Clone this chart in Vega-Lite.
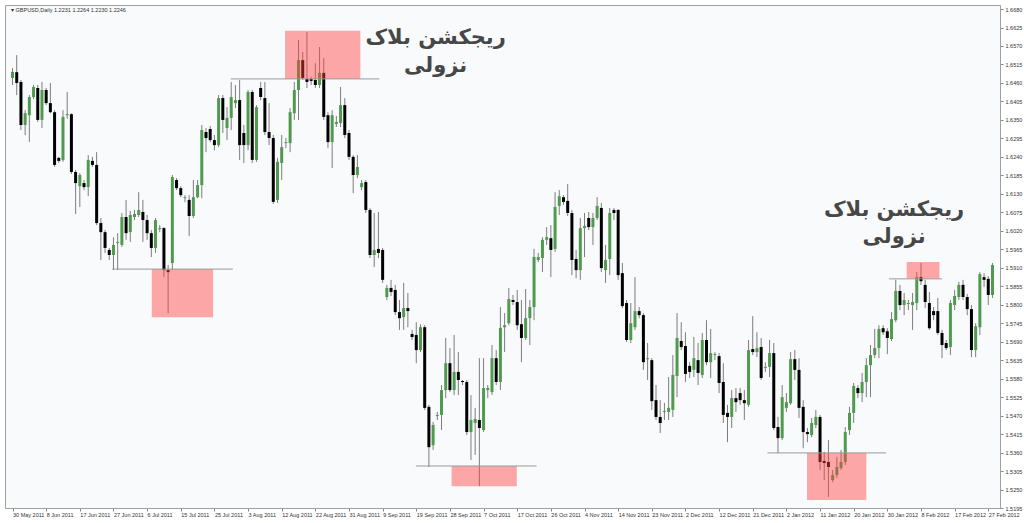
{
"$schema": "https://vega.github.io/schema/vega-lite/v6.json",
"width": 995, "height": 503,
"autosize": {"type": "none"},
"padding": {"left": 5, "top": 5, "right": 24, "bottom": 15},
"background": "#ffffff",
"config": {"view": {"fill": "#f9fafc", "stroke": "#a0a0a0", "strokeWidth": 1}, "font": "Liberation Sans",
 "axis": {"labelOverlap": false, "labelFlush": false, "labelBound": false, "grid": false, "tickSize": 3, "tickColor": "#888888", "domainColor": "#a0a0a0", "labelFontSize": 5.5, "labelColor": "#333333"}},
"title": {"text": "▾  GBPUSD,Daily  1.2231 1.2264 1.2230 1.2246", "anchor": "start", "frame": "group", "orient": "top", "fontSize": 5.5, "fontWeight": "normal", "color": "#333333", "offset": 0, "baseline": "top", "dy": 8, "dx": 6},
"datasets": {
"bars": [
{"d":"2011-05-30","i":0,"o":1.6475,"h":1.6504,"l":1.6454,"c":1.6493},
{"d":"2011-05-31","i":1,"o":1.6492,"h":1.6543,"l":1.6424,"c":1.6460},
{"d":"2011-06-01","i":2,"o":1.6463,"h":1.6469,"l":1.6320,"c":1.6335},
{"d":"2011-06-02","i":3,"o":1.6335,"h":1.6379,"l":1.6305,"c":1.6370},
{"d":"2011-06-03","i":4,"o":1.6364,"h":1.6424,"l":1.6284,"c":1.6418},
{"d":"2011-06-05","i":5,"o":1.6418,"h":1.6454,"l":1.6412,"c":1.6448},
{"d":"2011-06-06","i":6,"o":1.6445,"h":1.6454,"l":1.6344,"c":1.6350},
{"d":"2011-06-07","i":7,"o":1.6350,"h":1.6463,"l":1.6326,"c":1.6439},
{"d":"2011-06-08","i":8,"o":1.6439,"h":1.6445,"l":1.6394,"c":1.6400},
{"d":"2011-06-09","i":9,"o":1.6400,"h":1.6460,"l":1.6370,"c":1.6373},
{"d":"2011-06-10","i":10,"o":1.6373,"h":1.6379,"l":1.6210,"c":1.6216},
{"d":"2011-06-12","i":11,"o":1.6237,"h":1.6240,"l":1.6222,"c":1.6228},
{"d":"2011-06-13","i":12,"o":1.6231,"h":1.6379,"l":1.6225,"c":1.6359},
{"d":"2011-06-14","i":13,"o":1.6364,"h":1.6433,"l":1.6353,"c":1.6367},
{"d":"2011-06-15","i":14,"o":1.6367,"h":1.6370,"l":1.6189,"c":1.6195},
{"d":"2011-06-16","i":15,"o":1.6195,"h":1.6201,"l":1.6070,"c":1.6162},
{"d":"2011-06-17","i":16,"o":1.6153,"h":1.6192,"l":1.6091,"c":1.6186},
{"d":"2011-06-19","i":17,"o":1.6162,"h":1.6171,"l":1.6141,"c":1.6150},
{"d":"2011-06-20","i":18,"o":1.6150,"h":1.6245,"l":1.6123,"c":1.6231},
{"d":"2011-06-21","i":19,"o":1.6228,"h":1.6240,"l":1.6210,"c":1.6216},
{"d":"2011-06-22","i":20,"o":1.6216,"h":1.6254,"l":1.6037,"c":1.6043},
{"d":"2011-06-23","i":21,"o":1.6043,"h":1.6058,"l":1.5933,"c":1.6016},
{"d":"2011-06-24","i":22,"o":1.6016,"h":1.6022,"l":1.5954,"c":1.5969},
{"d":"2011-06-26","i":23,"o":1.5963,"h":1.5969,"l":1.5933,"c":1.5948},
{"d":"2011-06-27","i":24,"o":1.5948,"h":1.6001,"l":1.5903,"c":1.5978},
{"d":"2011-06-28","i":25,"o":1.5984,"h":1.6013,"l":1.5903,"c":1.5987},
{"d":"2011-06-29","i":26,"o":1.5978,"h":1.6073,"l":1.5972,"c":1.6061},
{"d":"2011-06-30","i":27,"o":1.6061,"h":1.6112,"l":1.5993,"c":1.6013},
{"d":"2011-07-01","i":28,"o":1.6016,"h":1.6079,"l":1.5987,"c":1.6067},
{"d":"2011-07-03","i":29,"o":1.6061,"h":1.6082,"l":1.6052,"c":1.6070},
{"d":"2011-07-04","i":30,"o":1.6067,"h":1.6135,"l":1.6061,"c":1.6082},
{"d":"2011-07-05","i":31,"o":1.6076,"h":1.6112,"l":1.5987,"c":1.6052},
{"d":"2011-07-06","i":32,"o":1.6052,"h":1.6067,"l":1.5993,"c":1.6013},
{"d":"2011-07-07","i":33,"o":1.6013,"h":1.6022,"l":1.5942,"c":1.5969},
{"d":"2011-07-08","i":34,"o":1.5969,"h":1.6058,"l":1.5954,"c":1.6052},
{"d":"2011-07-10","i":35,"o":1.6025,"h":1.6037,"l":1.6016,"c":1.6028},
{"d":"2011-07-11","i":36,"o":1.6028,"h":1.6031,"l":1.5882,"c":1.5903},
{"d":"2011-07-12","i":37,"o":1.5903,"h":1.5918,"l":1.5775,"c":1.5897},
{"d":"2011-07-13","i":38,"o":1.5924,"h":1.6186,"l":1.5903,"c":1.6180},
{"d":"2011-07-14","i":39,"o":1.6171,"h":1.6177,"l":1.6141,"c":1.6147},
{"d":"2011-07-15","i":40,"o":1.6147,"h":1.6153,"l":1.6120,"c":1.6126},
{"d":"2011-07-17","i":41,"o":1.6117,"h":1.6126,"l":1.6105,"c":1.6120},
{"d":"2011-07-18","i":42,"o":1.6112,"h":1.6126,"l":1.6004,"c":1.6064},
{"d":"2011-07-19","i":43,"o":1.6064,"h":1.6171,"l":1.6058,"c":1.6120},
{"d":"2011-07-20","i":44,"o":1.6120,"h":1.6171,"l":1.6117,"c":1.6156},
{"d":"2011-07-21","i":45,"o":1.6156,"h":1.6335,"l":1.6117,"c":1.6320},
{"d":"2011-07-22","i":46,"o":1.6314,"h":1.6326,"l":1.6254,"c":1.6296},
{"d":"2011-07-24","i":47,"o":1.6323,"h":1.6332,"l":1.6284,"c":1.6290},
{"d":"2011-07-25","i":48,"o":1.6290,"h":1.6305,"l":1.6260,"c":1.6275},
{"d":"2011-07-26","i":49,"o":1.6275,"h":1.6424,"l":1.6269,"c":1.6415},
{"d":"2011-07-27","i":50,"o":1.6415,"h":1.6424,"l":1.6311,"c":1.6350},
{"d":"2011-07-28","i":51,"o":1.6326,"h":1.6388,"l":1.6290,"c":1.6356},
{"d":"2011-07-29","i":52,"o":1.6356,"h":1.6463,"l":1.6320,"c":1.6418},
{"d":"2011-07-31","i":53,"o":1.6400,"h":1.6454,"l":1.6385,"c":1.6409},
{"d":"2011-08-01","i":54,"o":1.6409,"h":1.6469,"l":1.6231,"c":1.6275},
{"d":"2011-08-02","i":55,"o":1.6311,"h":1.6335,"l":1.6222,"c":1.6275},
{"d":"2011-08-03","i":56,"o":1.6275,"h":1.6439,"l":1.6260,"c":1.6433},
{"d":"2011-08-04","i":57,"o":1.6433,"h":1.6439,"l":1.6222,"c":1.6231},
{"d":"2011-08-05","i":58,"o":1.6231,"h":1.6394,"l":1.6225,"c":1.6388},
{"d":"2011-08-07","i":59,"o":1.6445,"h":1.6463,"l":1.6409,"c":1.6418},
{"d":"2011-08-08","i":60,"o":1.6415,"h":1.6463,"l":1.6305,"c":1.6314},
{"d":"2011-08-09","i":61,"o":1.6314,"h":1.6400,"l":1.6275,"c":1.6296},
{"d":"2011-08-10","i":62,"o":1.6296,"h":1.6305,"l":1.6100,"c":1.6106},
{"d":"2011-08-11","i":63,"o":1.6112,"h":1.6237,"l":1.6103,"c":1.6225},
{"d":"2011-08-12","i":64,"o":1.6222,"h":1.6305,"l":1.6171,"c":1.6269},
{"d":"2011-08-14","i":65,"o":1.6281,"h":1.6296,"l":1.6266,"c":1.6284},
{"d":"2011-08-15","i":66,"o":1.6281,"h":1.6385,"l":1.6254,"c":1.6373},
{"d":"2011-08-16","i":67,"o":1.6370,"h":1.6463,"l":1.6350,"c":1.6439},
{"d":"2011-08-17","i":68,"o":1.6439,"h":1.6588,"l":1.6350,"c":1.6528},
{"d":"2011-08-18","i":69,"o":1.6528,"h":1.6552,"l":1.6469,"c":1.6475},
{"d":"2011-08-19","i":70,"o":1.6472,"h":1.6612,"l":1.6445,"c":1.6463},
{"d":"2011-08-21","i":71,"o":1.6472,"h":1.6478,"l":1.6454,"c":1.6466},
{"d":"2011-08-22","i":72,"o":1.6469,"h":1.6519,"l":1.6445,"c":1.6454},
{"d":"2011-08-23","i":73,"o":1.6454,"h":1.6567,"l":1.6445,"c":1.6490},
{"d":"2011-08-24","i":74,"o":1.6490,"h":1.6534,"l":1.6350,"c":1.6359},
{"d":"2011-08-25","i":75,"o":1.6364,"h":1.6373,"l":1.6266,"c":1.6284},
{"d":"2011-08-26","i":76,"o":1.6284,"h":1.6379,"l":1.6207,"c":1.6364},
{"d":"2011-08-28","i":77,"o":1.6338,"h":1.6362,"l":1.6329,"c":1.6344},
{"d":"2011-08-29","i":78,"o":1.6341,"h":1.6448,"l":1.6329,"c":1.6394},
{"d":"2011-08-30","i":79,"o":1.6394,"h":1.6415,"l":1.6296,"c":1.6305},
{"d":"2011-08-31","i":80,"o":1.6311,"h":1.6320,"l":1.6231,"c":1.6240},
{"d":"2011-09-01","i":81,"o":1.6240,"h":1.6245,"l":1.6132,"c":1.6186},
{"d":"2011-09-02","i":82,"o":1.6186,"h":1.6245,"l":1.6177,"c":1.6210},
{"d":"2011-09-04","i":83,"o":1.6150,"h":1.6171,"l":1.6141,"c":1.6162},
{"d":"2011-09-05","i":84,"o":1.6165,"h":1.6171,"l":1.6073,"c":1.6082},
{"d":"2011-09-06","i":85,"o":1.6082,"h":1.6088,"l":1.5939,"c":1.5948},
{"d":"2011-09-07","i":86,"o":1.5948,"h":1.6073,"l":1.5912,"c":1.5963},
{"d":"2011-09-08","i":87,"o":1.5966,"h":1.6076,"l":1.5939,"c":1.5954},
{"d":"2011-09-09","i":88,"o":1.5963,"h":1.5969,"l":1.5865,"c":1.5874},
{"d":"2011-09-11","i":89,"o":1.5823,"h":1.5859,"l":1.5814,"c":1.5850},
{"d":"2011-09-12","i":90,"o":1.5850,"h":1.5874,"l":1.5826,"c":1.5838},
{"d":"2011-09-13","i":91,"o":1.5844,"h":1.5859,"l":1.5769,"c":1.5778},
{"d":"2011-09-14","i":92,"o":1.5778,"h":1.5814,"l":1.5725,"c":1.5760},
{"d":"2011-09-15","i":93,"o":1.5763,"h":1.5865,"l":1.5725,"c":1.5790},
{"d":"2011-09-16","i":94,"o":1.5790,"h":1.5835,"l":1.5733,"c":1.5781},
{"d":"2011-09-18","i":95,"o":1.5713,"h":1.5725,"l":1.5695,"c":1.5704},
{"d":"2011-09-19","i":96,"o":1.5710,"h":1.5748,"l":1.5626,"c":1.5665},
{"d":"2011-09-20","i":97,"o":1.5665,"h":1.5742,"l":1.5659,"c":1.5733},
{"d":"2011-09-21","i":98,"o":1.5733,"h":1.5739,"l":1.5487,"c":1.5493},
{"d":"2011-09-22","i":99,"o":1.5496,"h":1.5502,"l":1.5317,"c":1.5376},
{"d":"2011-09-23","i":100,"o":1.5382,"h":1.5451,"l":1.5368,"c":1.5442},
{"d":"2011-09-25","i":101,"o":1.5469,"h":1.5481,"l":1.5457,"c":1.5472},
{"d":"2011-09-26","i":102,"o":1.5472,"h":1.5561,"l":1.5427,"c":1.5546},
{"d":"2011-09-27","i":103,"o":1.5546,"h":1.5701,"l":1.5522,"c":1.5626},
{"d":"2011-09-28","i":104,"o":1.5626,"h":1.5671,"l":1.5540,"c":1.5546},
{"d":"2011-09-29","i":105,"o":1.5546,"h":1.5710,"l":1.5531,"c":1.5600},
{"d":"2011-09-30","i":106,"o":1.5600,"h":1.5659,"l":1.5531,"c":1.5576},
{"d":"2011-10-02","i":107,"o":1.5573,"h":1.5576,"l":1.5561,"c":1.5570},
{"d":"2011-10-03","i":108,"o":1.5570,"h":1.5576,"l":1.5412,"c":1.5421},
{"d":"2011-10-04","i":109,"o":1.5421,"h":1.5531,"l":1.5338,"c":1.5457},
{"d":"2011-10-05","i":110,"o":1.5448,"h":1.5493,"l":1.5353,"c":1.5460},
{"d":"2011-10-06","i":111,"o":1.5457,"h":1.5641,"l":1.5260,"c":1.5433},
{"d":"2011-10-07","i":112,"o":1.5427,"h":1.5641,"l":1.5421,"c":1.5552},
{"d":"2011-10-09","i":113,"o":1.5546,"h":1.5561,"l":1.5522,"c":1.5552},
{"d":"2011-10-10","i":114,"o":1.5540,"h":1.5680,"l":1.5531,"c":1.5641},
{"d":"2011-10-11","i":115,"o":1.5641,"h":1.5665,"l":1.5561,"c":1.5570},
{"d":"2011-10-12","i":116,"o":1.5570,"h":1.5793,"l":1.5546,"c":1.5731},
{"d":"2011-10-13","i":117,"o":1.5733,"h":1.5775,"l":1.5659,"c":1.5739},
{"d":"2011-10-14","i":118,"o":1.5745,"h":1.5850,"l":1.5739,"c":1.5817},
{"d":"2011-10-16","i":119,"o":1.5814,"h":1.5829,"l":1.5799,"c":1.5808},
{"d":"2011-10-17","i":120,"o":1.5808,"h":1.5844,"l":1.5725,"c":1.5739},
{"d":"2011-10-18","i":121,"o":1.5742,"h":1.5814,"l":1.5629,"c":1.5701},
{"d":"2011-10-19","i":122,"o":1.5701,"h":1.5847,"l":1.5695,"c":1.5760},
{"d":"2011-10-20","i":123,"o":1.5760,"h":1.5814,"l":1.5680,"c":1.5793},
{"d":"2011-10-21","i":124,"o":1.5793,"h":1.5966,"l":1.5754,"c":1.5942},
{"d":"2011-10-23","i":125,"o":1.5933,"h":1.5954,"l":1.5927,"c":1.5942},
{"d":"2011-10-24","i":126,"o":1.5939,"h":1.6001,"l":1.5897,"c":1.5993},
{"d":"2011-10-25","i":127,"o":1.5993,"h":1.6031,"l":1.5978,"c":1.6001},
{"d":"2011-10-26","i":128,"o":1.5998,"h":1.6037,"l":1.5882,"c":1.5963},
{"d":"2011-10-27","i":129,"o":1.5966,"h":1.6135,"l":1.5957,"c":1.6091},
{"d":"2011-10-28","i":130,"o":1.6094,"h":1.6141,"l":1.6067,"c":1.6123},
{"d":"2011-10-30","i":131,"o":1.6120,"h":1.6126,"l":1.6097,"c":1.6106},
{"d":"2011-10-31","i":132,"o":1.6109,"h":1.6159,"l":1.6064,"c":1.6073},
{"d":"2011-11-01","i":133,"o":1.6073,"h":1.6082,"l":1.5888,"c":1.5933},
{"d":"2011-11-02","i":134,"o":1.5936,"h":1.5963,"l":1.5879,"c":1.5903},
{"d":"2011-11-03","i":135,"o":1.5903,"h":1.6058,"l":1.5874,"c":1.6028},
{"d":"2011-11-04","i":136,"o":1.6028,"h":1.6073,"l":1.5942,"c":1.6034},
{"d":"2011-11-06","i":137,"o":1.6058,"h":1.6076,"l":1.6022,"c":1.6031},
{"d":"2011-11-07","i":138,"o":1.6031,"h":1.6073,"l":1.5978,"c":1.6058},
{"d":"2011-11-08","i":139,"o":1.6058,"h":1.6120,"l":1.6052,"c":1.6094},
{"d":"2011-11-09","i":140,"o":1.6088,"h":1.6103,"l":1.5897,"c":1.5909},
{"d":"2011-11-10","i":141,"o":1.5903,"h":1.5978,"l":1.5865,"c":1.5933},
{"d":"2011-11-11","i":142,"o":1.5936,"h":1.6088,"l":1.5888,"c":1.6073},
{"d":"2011-11-13","i":143,"o":1.6082,"h":1.6088,"l":1.6052,"c":1.6073},
{"d":"2011-11-14","i":144,"o":1.6082,"h":1.6085,"l":1.5874,"c":1.5888},
{"d":"2011-11-15","i":145,"o":1.5894,"h":1.5924,"l":1.5790,"c":1.5796},
{"d":"2011-11-16","i":146,"o":1.5805,"h":1.5814,"l":1.5689,"c":1.5695},
{"d":"2011-11-17","i":147,"o":1.5695,"h":1.5805,"l":1.5686,"c":1.5745},
{"d":"2011-11-18","i":148,"o":1.5733,"h":1.5882,"l":1.5725,"c":1.5781},
{"d":"2011-11-20","i":149,"o":1.5781,"h":1.5793,"l":1.5760,"c":1.5769},
{"d":"2011-11-21","i":150,"o":1.5769,"h":1.5775,"l":1.5606,"c":1.5629},
{"d":"2011-11-22","i":151,"o":1.5638,"h":1.5686,"l":1.5576,"c":1.5641},
{"d":"2011-11-23","i":152,"o":1.5635,"h":1.5641,"l":1.5487,"c":1.5513},
{"d":"2011-11-24","i":153,"o":1.5516,"h":1.5561,"l":1.5457,"c":1.5466},
{"d":"2011-11-25","i":154,"o":1.5466,"h":1.5516,"l":1.5418,"c":1.5448},
{"d":"2011-11-27","i":155,"o":1.5481,"h":1.5508,"l":1.5457,"c":1.5484},
{"d":"2011-11-28","i":156,"o":1.5481,"h":1.5585,"l":1.5457,"c":1.5493},
{"d":"2011-11-29","i":157,"o":1.5487,"h":1.5650,"l":1.5466,"c":1.5591},
{"d":"2011-11-30","i":158,"o":1.5588,"h":1.5775,"l":1.5525,"c":1.5701},
{"d":"2011-12-01","i":159,"o":1.5692,"h":1.5748,"l":1.5665,"c":1.5674},
{"d":"2011-12-02","i":160,"o":1.5677,"h":1.5718,"l":1.5570,"c":1.5594},
{"d":"2011-12-04","i":161,"o":1.5618,"h":1.5629,"l":1.5582,"c":1.5600},
{"d":"2011-12-05","i":162,"o":1.5606,"h":1.5704,"l":1.5585,"c":1.5641},
{"d":"2011-12-06","i":163,"o":1.5635,"h":1.5686,"l":1.5561,"c":1.5597},
{"d":"2011-12-07","i":164,"o":1.5591,"h":1.5716,"l":1.5582,"c":1.5695},
{"d":"2011-12-08","i":165,"o":1.5695,"h":1.5754,"l":1.5620,"c":1.5629},
{"d":"2011-12-09","i":166,"o":1.5629,"h":1.5728,"l":1.5582,"c":1.5656},
{"d":"2011-12-11","i":167,"o":1.5650,"h":1.5659,"l":1.5635,"c":1.5653},
{"d":"2011-12-12","i":168,"o":1.5647,"h":1.5656,"l":1.5537,"c":1.5567},
{"d":"2011-12-13","i":169,"o":1.5570,"h":1.5626,"l":1.5448,"c":1.5472},
{"d":"2011-12-14","i":170,"o":1.5478,"h":1.5502,"l":1.5391,"c":1.5466},
{"d":"2011-12-15","i":171,"o":1.5466,"h":1.5546,"l":1.5433,"c":1.5522},
{"d":"2011-12-16","i":172,"o":1.5522,"h":1.5552,"l":1.5481,"c":1.5510},
{"d":"2011-12-18","i":173,"o":1.5537,"h":1.5552,"l":1.5502,"c":1.5516},
{"d":"2011-12-19","i":174,"o":1.5516,"h":1.5546,"l":1.5457,"c":1.5507},
{"d":"2011-12-20","i":175,"o":1.5502,"h":1.5695,"l":1.5496,"c":1.5665},
{"d":"2011-12-21","i":176,"o":1.5668,"h":1.5766,"l":1.5650,"c":1.5659},
{"d":"2011-12-22","i":177,"o":1.5659,"h":1.5718,"l":1.5644,"c":1.5671},
{"d":"2011-12-23","i":178,"o":1.5674,"h":1.5701,"l":1.5576,"c":1.5582},
{"d":"2011-12-26","i":179,"o":1.5612,"h":1.5629,"l":1.5600,"c":1.5615},
{"d":"2011-12-27","i":180,"o":1.5615,"h":1.5695,"l":1.5585,"c":1.5656},
{"d":"2011-12-28","i":181,"o":1.5656,"h":1.5686,"l":1.5427,"c":1.5433},
{"d":"2011-12-29","i":182,"o":1.5436,"h":1.5466,"l":1.5358,"c":1.5403},
{"d":"2011-12-30","i":183,"o":1.5403,"h":1.5561,"l":1.5397,"c":1.5525},
{"d":"2012-01-02","i":184,"o":1.5493,"h":1.5537,"l":1.5481,"c":1.5510},
{"d":"2012-01-03","i":185,"o":1.5507,"h":1.5659,"l":1.5502,"c":1.5638},
{"d":"2012-01-04","i":186,"o":1.5638,"h":1.5665,"l":1.5576,"c":1.5606},
{"d":"2012-01-05","i":187,"o":1.5606,"h":1.5641,"l":1.5463,"c":1.5493},
{"d":"2012-01-06","i":188,"o":1.5496,"h":1.5516,"l":1.5373,"c":1.5421},
{"d":"2012-01-08","i":189,"o":1.5421,"h":1.5433,"l":1.5391,"c":1.5415},
{"d":"2012-01-09","i":190,"o":1.5412,"h":1.5463,"l":1.5406,"c":1.5448},
{"d":"2012-01-10","i":191,"o":1.5442,"h":1.5487,"l":1.5433,"c":1.5466},
{"d":"2012-01-11","i":192,"o":1.5466,"h":1.5472,"l":1.5308,"c":1.5332},
{"d":"2012-01-12","i":193,"o":1.5335,"h":1.5362,"l":1.5278,"c":1.5329},
{"d":"2012-01-13","i":194,"o":1.5332,"h":1.5397,"l":1.5228,"c":1.5317},
{"d":"2012-01-15","i":195,"o":1.5278,"h":1.5308,"l":1.5272,"c":1.5293},
{"d":"2012-01-16","i":196,"o":1.5293,"h":1.5347,"l":1.5284,"c":1.5317},
{"d":"2012-01-17","i":197,"o":1.5314,"h":1.5368,"l":1.5308,"c":1.5332},
{"d":"2012-01-18","i":198,"o":1.5332,"h":1.5436,"l":1.5323,"c":1.5421},
{"d":"2012-01-19","i":199,"o":1.5427,"h":1.5496,"l":1.5412,"c":1.5478},
{"d":"2012-01-20","i":200,"o":1.5478,"h":1.5567,"l":1.5448,"c":1.5558},
{"d":"2012-01-22","i":201,"o":1.5552,"h":1.5561,"l":1.5522,"c":1.5537},
{"d":"2012-01-23","i":202,"o":1.5537,"h":1.5597,"l":1.5510,"c":1.5570},
{"d":"2012-01-24","i":203,"o":1.5570,"h":1.5641,"l":1.5525,"c":1.5620},
{"d":"2012-01-25","i":204,"o":1.5620,"h":1.5680,"l":1.5525,"c":1.5650},
{"d":"2012-01-26","i":205,"o":1.5650,"h":1.5728,"l":1.5641,"c":1.5671},
{"d":"2012-01-27","i":206,"o":1.5671,"h":1.5739,"l":1.5641,"c":1.5728},
{"d":"2012-01-29","i":207,"o":1.5730,"h":1.5739,"l":1.5710,"c":1.5718},
{"d":"2012-01-30","i":208,"o":1.5721,"h":1.5730,"l":1.5653,"c":1.5701},
{"d":"2012-01-31","i":209,"o":1.5698,"h":1.5778,"l":1.5692,"c":1.5757},
{"d":"2012-02-01","i":210,"o":1.5754,"h":1.5874,"l":1.5748,"c":1.5841},
{"d":"2012-02-02","i":211,"o":1.5841,"h":1.5859,"l":1.5784,"c":1.5799},
{"d":"2012-02-03","i":212,"o":1.5799,"h":1.5835,"l":1.5769,"c":1.5814},
{"d":"2012-02-05","i":213,"o":1.5802,"h":1.5814,"l":1.5784,"c":1.5805},
{"d":"2012-02-06","i":214,"o":1.5799,"h":1.5835,"l":1.5725,"c":1.5808},
{"d":"2012-02-07","i":215,"o":1.5805,"h":1.5897,"l":1.5784,"c":1.5882},
{"d":"2012-02-08","i":216,"o":1.5882,"h":1.5924,"l":1.5859,"c":1.5870},
{"d":"2012-02-09","i":217,"o":1.5859,"h":1.5874,"l":1.5790,"c":1.5808},
{"d":"2012-02-10","i":218,"o":1.5805,"h":1.5838,"l":1.5725,"c":1.5730},
{"d":"2012-02-12","i":219,"o":1.5781,"h":1.5793,"l":1.5754,"c":1.5769},
{"d":"2012-02-13","i":220,"o":1.5781,"h":1.5820,"l":1.5710,"c":1.5716},
{"d":"2012-02-14","i":221,"o":1.5716,"h":1.5725,"l":1.5641,"c":1.5680},
{"d":"2012-02-15","i":222,"o":1.5686,"h":1.5695,"l":1.5665,"c":1.5671},
{"d":"2012-02-16","i":223,"o":1.5674,"h":1.5814,"l":1.5650,"c":1.5805},
{"d":"2012-02-17","i":224,"o":1.5799,"h":1.5844,"l":1.5784,"c":1.5826},
{"d":"2012-02-19","i":225,"o":1.5823,"h":1.5868,"l":1.5814,"c":1.5859},
{"d":"2012-02-20","i":226,"o":1.5859,"h":1.5874,"l":1.5814,"c":1.5823},
{"d":"2012-02-21","i":227,"o":1.5823,"h":1.5832,"l":1.5769,"c":1.5787},
{"d":"2012-02-22","i":228,"o":1.5787,"h":1.5799,"l":1.5644,"c":1.5665},
{"d":"2012-02-23","i":229,"o":1.5665,"h":1.5745,"l":1.5644,"c":1.5736},
{"d":"2012-02-24","i":230,"o":1.5733,"h":1.5897,"l":1.5710,"c":1.5891},
{"d":"2012-02-26","i":231,"o":1.5882,"h":1.5894,"l":1.5853,"c":1.5874},
{"d":"2012-02-27","i":232,"o":1.5877,"h":1.5885,"l":1.5799,"c":1.5829},
{"d":"2012-02-28","i":233,"o":1.5829,"h":1.5924,"l":1.5820,"c":1.5918}
],
"boxes": [
{"a":33.1,"b":47.7,"top":1.5906,"bottom":1.5763},
{"a":64.8,"b":82.7,"top":1.6615,"bottom":1.6472},
{"a":104.4,"b":119.9,"top":1.5320,"bottom":1.5260},
{"a":188.9,"b":203.0,"top":1.5359,"bottom":1.5219},
{"a":212.6,"b":220.4,"top":1.5927,"bottom":1.5877}
],
"lines": [
{"a":23.7,"b":52.4,"p":1.5906},
{"a":51.9,"b":87.2,"p":1.6472},
{"a":95.9,"b":124.6,"p":1.5320},
{"a":179.5,"b":207.7,"p":1.5359},
{"a":208.4,"b":221.0,"p":1.5877}
],
"notes": [
{"i":100.6,"p":1.6594,"t":"ریجکشن بلاک"},
{"i":100.6,"p":1.6510,"t":"نزولی"},
{"i":209.6,"p":1.6082,"t":"ریجکشن بلاک"},
{"i":209.6,"p":1.6001,"t":"نزولی"}
]
},
"layer": [
{
"data": {"name": "bars"},
"mark": {"type": "rule", "color": "#7d7d7d", "strokeWidth": 1},
"encoding": {
"x": {"field": "i", "type": "quantitative", "title": null,
 "scale": {"domain": [-0.6, 233.6], "nice": false, "zero": false},
 "axis": {"orient": "bottom", "tickCount": 200, "values": [0,8,16,24,32,40,48,56,64,72,80,88,96,104,112,120,128,136,144,152,160,168,176,184,192,200,208,216,224,232],
  "labelExpr": "['30 May 2011','8 Jun 2011','17 Jun 2011','27 Jun 2011','6 Jul 2011','15 Jul 2011','25 Jul 2011','3 Aug 2011','12 Aug 2011','22 Aug 2011','31 Aug 2011','9 Sep 2011','19 Sep 2011','28 Sep 2011','7 Oct 2011','17 Oct 2011','26 Oct 2011','4 Nov 2011','14 Nov 2011','23 Nov 2011','2 Dec 2011','12 Dec 2011','21 Dec 2011','2 Jan 2012','11 Jan 2012','20 Jan 2012','30 Jan 2012','8 Feb 2012','17 Feb 2012','27 Feb 2012'][round(datum.value/8)]",
  "labelAlign": "left", "labelDx": -2, "labelPadding": 1, "labelOverlap": false}},
"y": {"field": "l", "type": "quantitative", "title": null,
 "scale": {"domain": [1.5195, 1.6692], "nice": false, "zero": false},
 "axis": {"orient": "right", "tickCount": 200, "values": [1.668,1.6625,1.657,1.6515,1.646,1.6405,1.635,1.6295,1.624,1.6185,1.613,1.6075,1.602,1.5965,1.591,1.5855,1.58,1.5745,1.569,1.5635,1.558,1.5525,1.547,1.5415,1.536,1.5305,1.525,1.5195],
  "format": ".4f", "labelPadding": 2, "labelOverlap": false}},
"y2": {"field": "h"}
}
},
{
"data": {"name": "bars"},
"mark": {"type": "bar", "size": 3, "orient": "vertical"},
"encoding": {
"x": {"field": "i", "type": "quantitative", "title": null},
"y": {"field": "o", "type": "quantitative", "title": null},
"y2": {"field": "c"},
"color": {"condition": {"test": "datum.c >= datum.o", "value": "#4f9a4f"}, "value": "#000000"}
}
},
{
"data": {"name": "boxes"},
"mark": {"type": "rect", "color": "#ff4040", "opacity": 0.45},
"encoding": {
"x": {"field": "a", "type": "quantitative", "title": null},
"x2": {"field": "b"},
"y": {"field": "top", "type": "quantitative", "title": null},
"y2": {"field": "bottom"}
}
},
{
"data": {"name": "lines"},
"mark": {"type": "rule", "color": "#9a9a9a", "strokeWidth": 1},
"encoding": {
"x": {"field": "a", "type": "quantitative", "title": null},
"x2": {"field": "b"},
"y": {"field": "p", "type": "quantitative", "title": null}
}
},
{
"data": {"name": "notes"},
"mark": {"type": "text", "font": "DejaVu Sans", "fontSize": 21, "fontWeight": "bold", "color": "#474747", "align": "center", "baseline": "middle"},
"encoding": {
"x": {"field": "i", "type": "quantitative", "title": null},
"y": {"field": "p", "type": "quantitative", "title": null},
"text": {"field": "t"}
}
}
]
}
